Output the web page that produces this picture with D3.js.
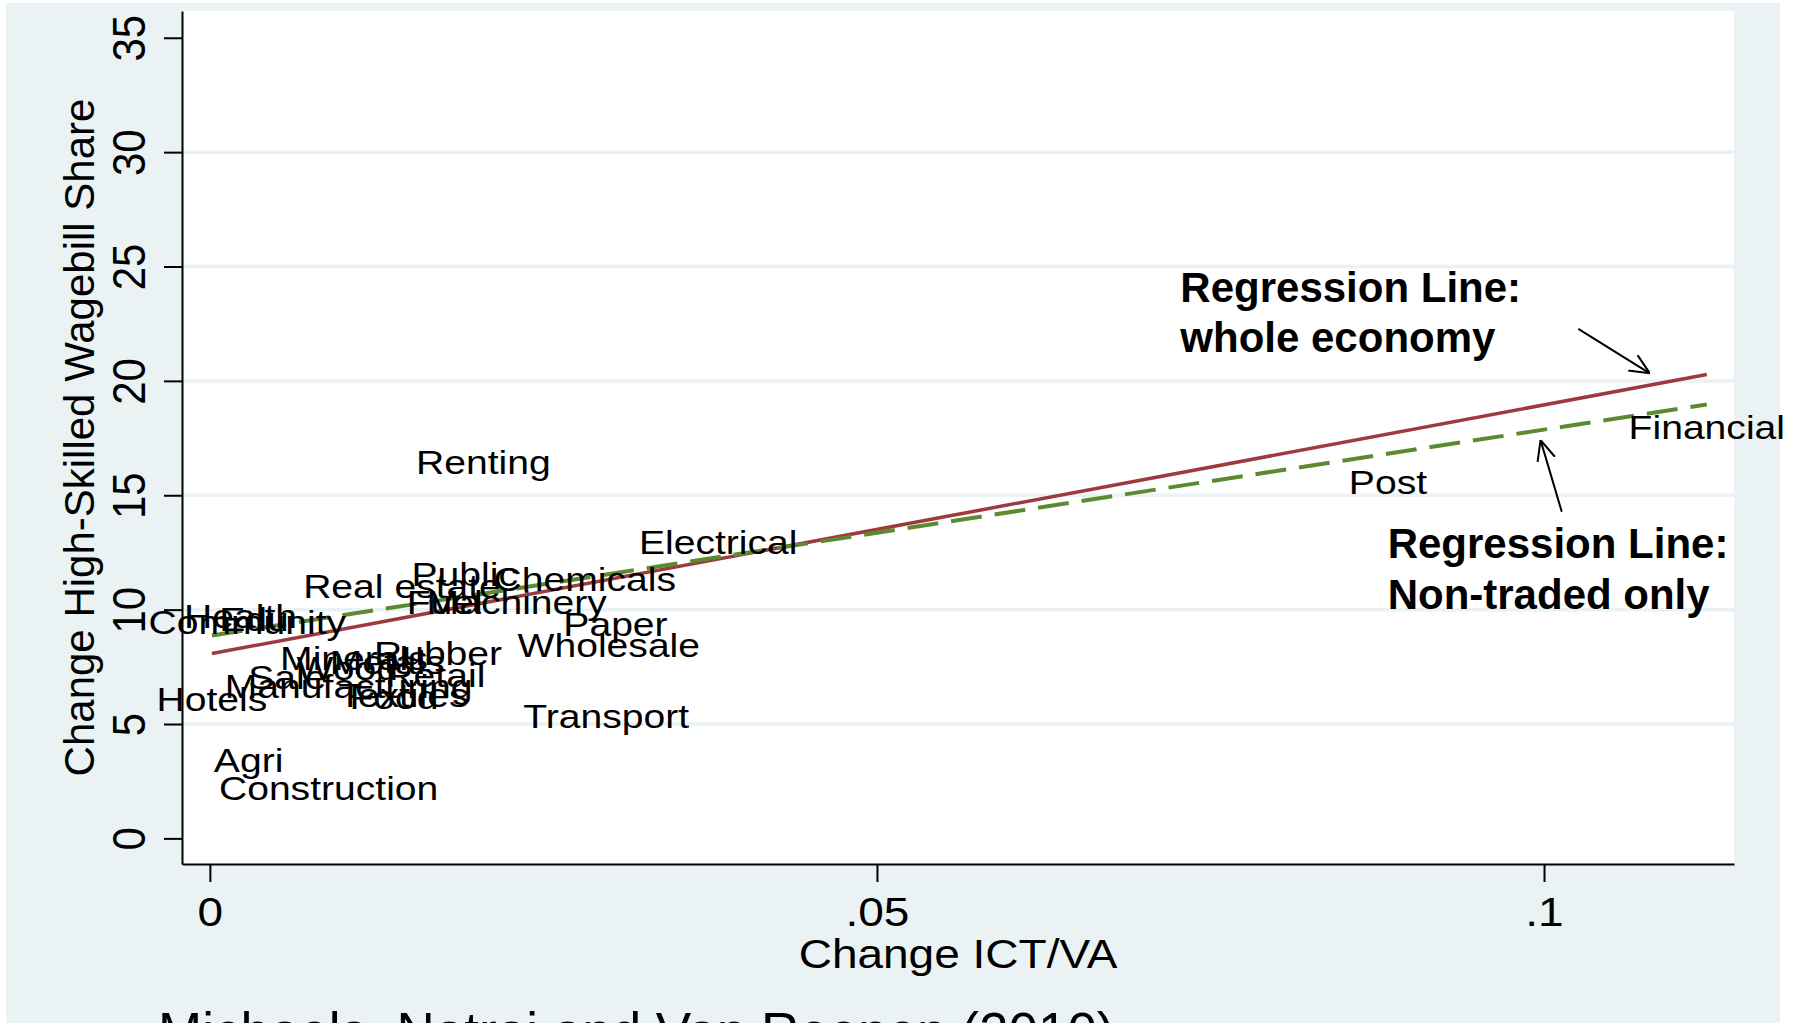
<!DOCTYPE html>
<html lang="en">
<head>
  <meta charset="utf-8">
  <title>ICT and high-skilled wagebill share</title>
  <script src="https://cdnjs.cloudflare.com/ajax/libs/d3/7.8.5/d3.min.js"></script>
  <style>
    html, body { margin: 0; padding: 0; background: #fff; }
    svg { display: block; }
    text { font-family: "Liberation Sans", Arial, sans-serif; fill: #000; }
  </style>
</head>
<body>
<svg id="chart" width="1794" height="1023"></svg>
<script>
// ---- data ----
var xTicks = [0, 0.05, 0.1];
var yTicks = [0, 5, 10, 15, 20, 25, 30, 35];
var gridTicks = [5, 10, 15, 20, 25, 30];

var industries = ["Hotels", "Community", "Health", "Edu", "Agri", "Construction",
  "Sale", "Manufacturing", "Wood", "Minerals", "Metals", "Textiles", "Food",
  "Retail", "Rubber", "Real estate", "Public", "Fuel", "Machinery", "Chemicals",
  "Paper", "Wholesale", "Transport", "Renting", "Electrical", "Post", "Financial"];
var ictChange = [0.00015, 0.0028, 0.0023, 0.0033, 0.0029, 0.0089,
  0.0058, 0.0104, 0.0103, 0.0108, 0.0133, 0.0145, 0.0138,
  0.0169, 0.0171, 0.0144, 0.0191, 0.0176, 0.0230, 0.0281,
  0.0304, 0.0299, 0.0297, 0.0205, 0.0381, 0.0883, 0.1122];
var skillChange = [6.12, 9.47, 9.73, 9.60, 3.42, 2.23,
  7.05, 6.66, 7.45, 7.88, 7.70, 6.30, 6.18,
  7.14, 8.10, 11.04, 11.59, 10.34, 10.33, 11.37,
  9.37, 8.45, 5.36, 16.47, 12.98, 15.59, 18.00];

// fitted lines, evaluated at min and max of ICT change
var regX = [0.00015, 0.1122];
var regWhole = [8.08, 20.28];
var regNonTraded = [8.87, 18.97];

// annotations (data coordinates)
var noteWhole = ["Regression Line:", "whole economy"];
var noteNonTraded = ["Regression Line:", "Non-traded only"];
var arrowWhole = [[0.10257, 22.27], [0.10793, 20.33]];
var arrowNonTraded = [[0.10133, 14.28], [0.09974, 17.41]];

// ---- layout ----
var W = 1794, H = 1023;
var box = {left: 182, right: 1734, top: 11, bottom: 864};
var SX = 1.15;   // the stata graph is a bit stretched sideways
var bg = "#eaf2f3";

var svg = d3.select("#chart");

var x = d3.scaleLinear().domain([-0.00209, 0.11424]).range([box.left, box.right]);
var y = d3.scaleLinear().domain([-1.12, 36.17]).range([box.bottom, box.top]);

// outer background + plot region
svg.append("rect").attr("x", 6).attr("y", 3).attr("width", 1774).attr("height", H)
   .attr("fill", bg);
svg.append("rect").attr("x", box.left).attr("y", box.top)
   .attr("width", box.right - box.left).attr("height", box.bottom - box.top)
   .attr("fill", "#fff");

// grid
svg.append("g").selectAll("line").data(gridTicks).enter().append("line")
   .attr("x1", box.left).attr("x2", box.right)
   .attr("y1", d => y(d)).attr("y2", d => y(d))
   .attr("stroke", bg).attr("stroke-width", 3.5);

// y axis
var gy = svg.append("g").attr("transform", "translate(" + box.left + ",0)")
   .call(d3.axisLeft(y).tickValues(yTicks).tickSize(18).tickSizeOuter(0));
gy.select(".domain").attr("stroke", "#000").attr("stroke-width", 2);
gy.selectAll(".tick line").attr("stroke", "#000").attr("stroke-width", 2);
gy.selectAll(".tick text")
   .attr("x", null).attr("dy", null)
   .attr("transform", "translate(-37,0) scale(1.08,1) rotate(-90)")
   .attr("text-anchor", "middle")
   .attr("font-size", 42).attr("font-family", null).attr("fill", "#000");

// x axis
var gx = svg.append("g").attr("transform", "translate(0," + box.bottom + ")")
   .call(d3.axisBottom(x).tickValues(xTicks).tickSize(18).tickPadding(16).tickSizeOuter(0)
     .tickFormat(d => d === 0 ? "0" : String(d).replace(/^0/, "")));
gx.select(".domain").attr("stroke", "#000").attr("stroke-width", 2);
gx.selectAll(".tick line").attr("stroke", "#000").attr("stroke-width", 2);
gx.selectAll(".tick text")
   .attr("transform", "scale(" + SX + ",1)")
   .attr("font-size", 40).attr("font-family", null).attr("fill", "#000");

// axis titles
svg.append("text")
   .attr("transform", "translate(" + (box.left + box.right) / 2 + ",968) scale(" + SX + ",1)")
   .attr("text-anchor", "middle").attr("font-size", 40)
   .text("Change ICT/VA");
svg.append("text")
   .attr("transform", "translate(94," + (box.top + box.bottom) / 2 + ") rotate(-90)")
   .attr("text-anchor", "middle").attr("font-size", 42)
   .text("Change High-Skilled Wagebill Share");

// regression lines
var line = d3.line().x(d => x(d[0])).y(d => y(d[1]));
svg.append("path").datum(regX.map((v, i) => [v, regWhole[i]]))
   .attr("d", line).attr("fill", "none")
   .attr("stroke", "#9e3a3e").attr("stroke-width", 3.5);
svg.append("path").datum(regX.map((v, i) => [v, regNonTraded[i]]))
   .attr("d", line).attr("fill", "none")
   .attr("stroke", "#5c8a30").attr("stroke-width", 4)
   .attr("stroke-dasharray", "31,13");

// industry labels (marker labels centred on the points)
svg.append("g").selectAll("text").data(industries).enter().append("text")
   .attr("transform", (d, i) => "translate(" + x(ictChange[i]) + "," + y(skillChange[i]) + ") scale(" + SX + ",1)")
   .attr("dy", "0.36em")
   .attr("text-anchor", "middle")
   .attr("font-size", 34)
   .text(d => d);

// annotations
function note(lines, xv, yv) {
  var t = svg.append("text")
     .attr("x", x(xv)).attr("y", y(yv))
     .attr("font-size", 42).attr("font-weight", "bold");
  lines.forEach((s, i) => {
    t.append("tspan").attr("x", x(xv)).attr("dy", i === 0 ? 0 : 50.5).text(s);
  });
}
note(noteWhole, 0.07274, 23.46);
note(noteNonTraded, 0.08828, 12.24);

svg.append("defs").append("marker")
   .attr("id", "head").attr("viewBox", "0 0 20 20")
   .attr("refX", 20).attr("refY", 10)
   .attr("markerWidth", 20).attr("markerHeight", 20)
   .attr("markerUnits", "userSpaceOnUse").attr("orient", "auto")
   .append("path").attr("d", "M0,1 L20,10 L0,19")
   .attr("fill", "none").attr("stroke", "#000").attr("stroke-width", 2);

[arrowWhole, arrowNonTraded].forEach(a => {
  svg.append("path").datum(a).attr("d", line)
     .attr("fill", "none").attr("stroke", "#000").attr("stroke-width", 2)
     .attr("marker-end", "url(#head)");
});

// source line at the foot of the slide
svg.append("text").attr("x", 158).attr("y", 1050)
   .attr("font-size", 53)
   .text("Michaels, Natraj and Van Reenen (2010)");
</script>
</body>
</html>
